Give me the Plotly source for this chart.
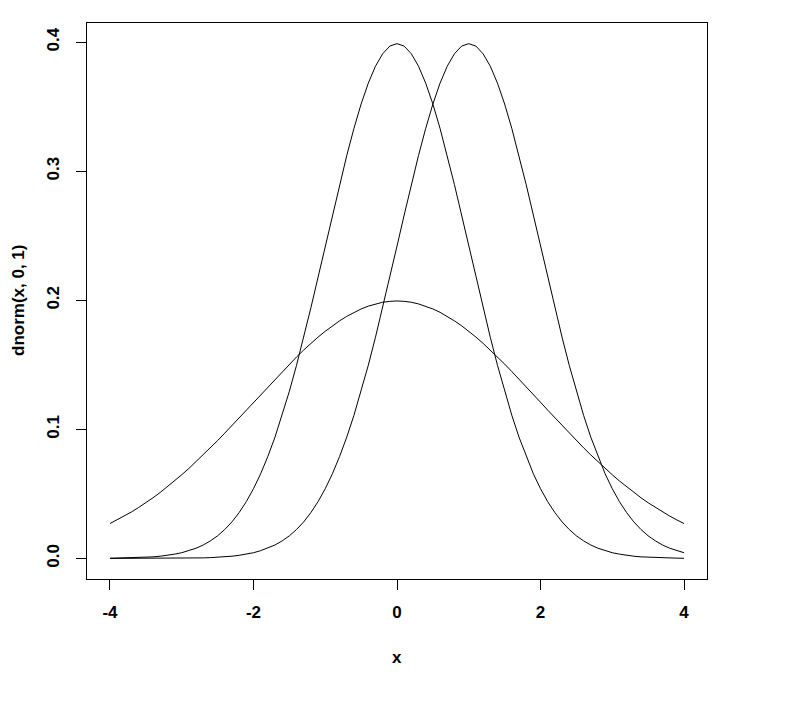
import plotly.graph_objects as go

# x grid (step 0.1 from -4 to 4)
x_vals = [-4.0, -3.9, -3.8, -3.7, -3.6, -3.5, -3.4, -3.3, -3.2, -3.1,
          -3.0, -2.9, -2.8, -2.7, -2.6, -2.5, -2.4, -2.3, -2.2, -2.1,
          -2.0, -1.9, -1.8, -1.7, -1.6, -1.5, -1.4, -1.3, -1.2, -1.1,
          -1.0, -0.9, -0.8, -0.7, -0.6, -0.5, -0.4, -0.3, -0.2, -0.1,
          0.0,
          0.1, 0.2, 0.3, 0.4, 0.5, 0.6, 0.7, 0.8, 0.9, 1.0,
          1.1, 1.2, 1.3, 1.4, 1.5, 1.6, 1.7, 1.8, 1.9, 2.0,
          2.1, 2.2, 2.3, 2.4, 2.5, 2.6, 2.7, 2.8, 2.9, 3.0,
          3.1, 3.2, 3.3, 3.4, 3.5, 3.6, 3.7, 3.8, 3.9, 4.0]

# curve centred at 0, sd 1
curve_0_1 = [0.0001, 0.0002, 0.0003, 0.0004, 0.0006, 0.0009, 0.0012, 0.0017, 0.0024, 0.0033,
             0.0044, 0.0060, 0.0079, 0.0104, 0.0136, 0.0175, 0.0224, 0.0283, 0.0355, 0.0440,
             0.0540, 0.0656, 0.0790, 0.0940, 0.1109, 0.1295, 0.1497, 0.1714, 0.1942, 0.2179,
             0.2420, 0.2661, 0.2897, 0.3123, 0.3332, 0.3521, 0.3683, 0.3814, 0.3910, 0.3970,
             0.3989,
             0.3970, 0.3910, 0.3814, 0.3683, 0.3521, 0.3332, 0.3123, 0.2897, 0.2661, 0.2420,
             0.2179, 0.1942, 0.1714, 0.1497, 0.1295, 0.1109, 0.0940, 0.0790, 0.0656, 0.0540,
             0.0440, 0.0355, 0.0283, 0.0224, 0.0175, 0.0136, 0.0104, 0.0079, 0.0060, 0.0044,
             0.0033, 0.0024, 0.0017, 0.0012, 0.0009, 0.0006, 0.0004, 0.0003, 0.0002, 0.0001]

# curve centred at 1, sd 1
curve_1_1 = [0.0000, 0.0000, 0.0000, 0.0000, 0.0000, 0.0000, 0.0000, 0.0000, 0.0001, 0.0001,
             0.0001, 0.0002, 0.0003, 0.0004, 0.0006, 0.0009, 0.0012, 0.0017, 0.0024, 0.0033,
             0.0044, 0.0060, 0.0079, 0.0104, 0.0136, 0.0175, 0.0224, 0.0283, 0.0355, 0.0440,
             0.0540, 0.0656, 0.0790, 0.0940, 0.1109, 0.1295, 0.1497, 0.1714, 0.1942, 0.2179,
             0.2420, 0.2661, 0.2897, 0.3123, 0.3332, 0.3521, 0.3683, 0.3814, 0.3910, 0.3970,
             0.3989,
             0.3970, 0.3910, 0.3814, 0.3683, 0.3521, 0.3332, 0.3123, 0.2897, 0.2661, 0.2420,
             0.2179, 0.1942, 0.1714, 0.1497, 0.1295, 0.1109, 0.0940, 0.0790, 0.0656, 0.0540,
             0.0440, 0.0355, 0.0283, 0.0224, 0.0175, 0.0136, 0.0104, 0.0079, 0.0060, 0.0044]

# curve centred at 0, sd 2
curve_0_2 = [0.0270, 0.0298, 0.0328, 0.0360, 0.0395, 0.0431, 0.0470, 0.0511, 0.0555, 0.0600,
             0.0648, 0.0697, 0.0749, 0.0802, 0.0857, 0.0913, 0.0971, 0.1030, 0.1089, 0.1149,
             0.1210, 0.1270, 0.1330, 0.1390, 0.1448, 0.1506, 0.1561, 0.1615, 0.1666, 0.1715,
             0.1760, 0.1803, 0.1841, 0.1876, 0.1907, 0.1933, 0.1955, 0.1972, 0.1985, 0.1992,
             0.1995,
             0.1992, 0.1985, 0.1972, 0.1955, 0.1933, 0.1907, 0.1876, 0.1841, 0.1803, 0.1760,
             0.1715, 0.1666, 0.1615, 0.1561, 0.1506, 0.1448, 0.1390, 0.1330, 0.1270, 0.1210,
             0.1149, 0.1089, 0.1030, 0.0971, 0.0913, 0.0857, 0.0802, 0.0749, 0.0697, 0.0648,
             0.0600, 0.0555, 0.0511, 0.0470, 0.0431, 0.0395, 0.0360, 0.0328, 0.0298, 0.0270]

x_ticks = [-4, -2, 0, 2, 4]
y_ticks = [0.0, 0.1, 0.2, 0.3, 0.4]
y_tick_text = ["0.0", "0.1", "0.2", "0.3", "0.4"]

fig = go.Figure()
for ys in (curve_0_1, curve_1_1, curve_0_2):
    fig.add_trace(go.Scatter(x=x_vals, y=ys, mode="lines",
                             line=dict(color="black", width=1), showlegend=False,
                             hoverinfo="skip"))

font = dict(family="Liberation Sans", size=17, color="black", weight="bold")

# page body has an 8px default margin, so the figure is 8px smaller/offset
fig.update_layout(
    width=790, height=700,
    margin=dict(l=79, r=91, t=15, b=129),
    paper_bgcolor="white", plot_bgcolor="white",
    showlegend=False,
    xaxis=dict(range=[-4.32, 4.32], tickvals=x_ticks, ticktext=[str(t) for t in x_ticks],
               ticks="outside", ticklen=10, tickcolor="black", tickwidth=1,
               showline=True, mirror=True, linecolor="black", linewidth=1,
               showgrid=False, zeroline=False, tickfont=font, ticklabelstandoff=8),
    yaxis=dict(range=[-0.01596, 0.4149], tickvals=y_ticks, ticktext=y_tick_text,
               ticks="outside", ticklen=10, tickcolor="black", tickwidth=1,
               showline=True, mirror=True, linecolor="black", linewidth=1,
               showgrid=False, zeroline=False, tickfont=font, tickangle=-90,
               ticklabelstandoff=10),
    annotations=[
        dict(text="x", xref="paper", yref="paper", x=0.5, y=(571 - 649) / 556,
             showarrow=False, font=font, xanchor="center", yanchor="middle"),
        dict(text="dnorm(x, 0, 1)", xref="paper", yref="paper", x=(10 - 79) / 620, y=0.5,
             showarrow=False, font=font, textangle=-90, xanchor="center", yanchor="middle"),
    ],
)

fig.write_html("out.html")
